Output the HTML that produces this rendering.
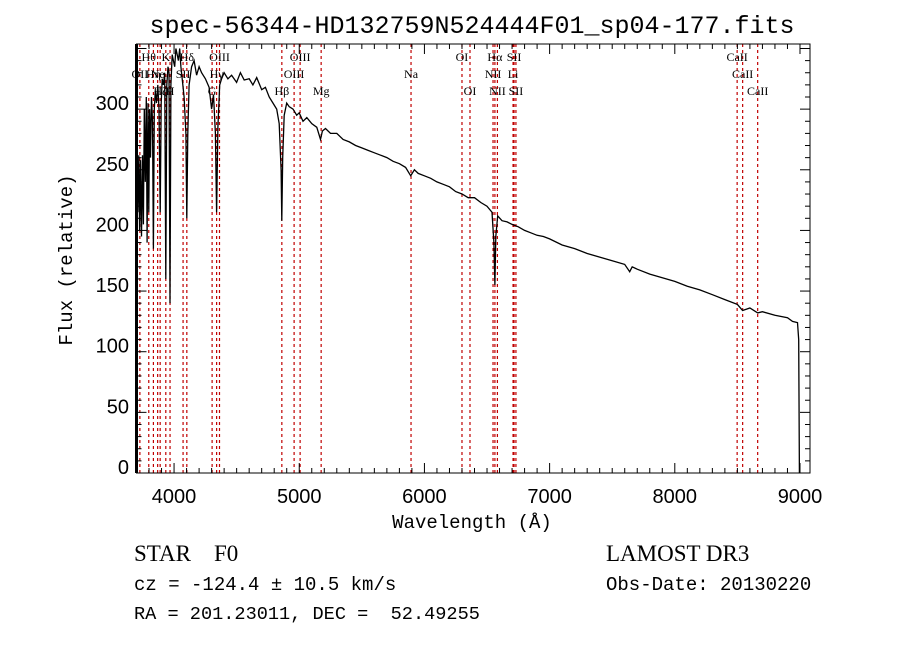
<!DOCTYPE html>
<html><head><meta charset="utf-8"><style>
body{margin:0;background:#fff;width:900px;height:649px;overflow:hidden}
svg{display:block}
text{white-space:pre}
</style></head><body>
<svg id="c" width="900" height="649" xmlns="http://www.w3.org/2000/svg">
<text x="472" y="33" text-anchor="middle" font-family="Liberation Mono, monospace" font-size="25">spec-56344-HD132759N524444F01_sp04-177.fits</text>
<g id="lines"></g>
<g id="labels" font-family="Liberation Serif, serif" font-size="12"></g>
<polyline id="spec" fill="none" stroke="#000" stroke-width="1.3"/>
<rect x="136.5" y="44" width="673.5" height="429" fill="none" stroke="#000" stroke-width="1"/>
<line x1="136.5" y1="44" x2="136.5" y2="473" stroke="#000" stroke-width="3"/>
<g id="axes"></g>
<text x="472" y="528" text-anchor="middle" font-family="Liberation Mono, monospace" font-size="19">Wavelength (Å)</text>
<text transform="translate(72,260) rotate(-90)" text-anchor="middle" font-family="Liberation Mono, monospace" font-size="19">Flux (relative)</text>
<text x="134" y="561" font-family="Liberation Serif, serif" font-size="23" xml:space="preserve">STAR    F0</text>
<text x="606" y="561" font-family="Liberation Serif, serif" font-size="23">LAMOST DR3</text>
<text x="134" y="590" font-family="Liberation Mono, monospace" font-size="19">cz = -124.4 ± 10.5 km/s</text>
<text x="606" y="590" font-family="Liberation Mono, monospace" font-size="19">Obs-Date: 20130220</text>
<text x="134" y="619" font-family="Liberation Mono, monospace" font-size="18.6" xml:space="preserve">RA = 201.23011, DEC =  52.49255</text>
</svg>
<script>
const specWl=[3700,3702,3710,3718,3725,3732,3740,3748,3755,3762,3770,3778,3785,3792,3798,3805,3812,3820,3828,3835,3842,3850,3860,3870,3880,3889,3897,3905,3915,3925,3934,3942,3952,3960,3968,3975,3985,3995,4005,4015,4025,4035,4045,4055,4065,4080,4095,4102,4110,4120,4140,4160,4180,4200,4220,4250,4280,4300,4315,4330,4340,4350,4365,4380,4400,4430,4460,4500,4530,4560,4600,4630,4660,4700,4730,4760,4790,4820,4840,4855,4861,4868,4880,4900,4920,4950,4980,5000,5030,5060,5100,5140,5170,5185,5210,5250,5300,5350,5400,5450,5500,5550,5600,5650,5700,5750,5800,5850,5890,5920,5950,6000,6050,6100,6150,6200,6250,6300,6350,6400,6450,6500,6540,6555,6563,6570,6585,6620,6660,6700,6750,6800,6850,6900,6950,7000,7100,7200,7300,7400,7500,7600,7640,7660,7700,7800,7900,8000,8100,8200,8300,8400,8500,8542,8600,8662,8700,8800,8900,8940,8980,8990,8995];
const specFlux=[0,255,215,262,200,258,195,262,205,300,240,310,190,305,215,300,260,310,290,185,300,315,305,320,300,215,305,325,320,330,160,320,335,330,140,320,345,340,335,350,345,340,350,335,325,310,280,210,280,320,335,340,328,335,330,325,318,300,312,280,215,285,320,325,330,325,328,322,330,324,325,320,326,316,318,310,305,300,288,250,208,260,295,305,302,300,295,297,290,293,288,285,275,282,284,280,280,275,273,270,268,266,264,262,260,257,255,252,245,250,247,245,243,240,238,236,232,230,227,227,223,220,215,190,155,195,212,208,207,205,203,200,198,196,195,193,188,185,181,178,175,172,166,170,168,164,161,158,154,151,147,143,139,134,136,132,133,130,128,125,124,110,0];
const lineWl=[3727,3798,3835,3869,3889,3934,3968,4072,4102,4304,4340,4363,4861,4959,5007,5175,5893,6300,6364,6548,6563,6583,6708,6716,6731,8498,8542,8662];
const lineNames=["OII","Hθ","Hη","Ne","Hζ","K","H","SII","Hδ","G","Hγ","OIII","Hβ","OIII","OIII","Mg","Na","OI","OI","NII","Hα","NII","Li","SII","SII","CaII","CaII","CaII"];
const lineRow=[1,0,1,1,2,0,2,1,0,2,1,0,2,1,0,2,1,0,2,1,0,2,1,0,2,0,1,2];
const xTicks=[4000,5000,6000,7000,8000,9000];
const yTicks=[0,50,100,150,200,250,300];
const NS="http://www.w3.org/2000/svg";
const X0=136.5,X1=810,Y0=473,Y1=44,WMIN=3700,WMAX=9080,FMIN=0,FMAX=353.7;
const sx=w=>X0+(w-WMIN)/(WMAX-WMIN)*(X1-X0);
const sy=f=>Y0-(f-FMIN)/(FMAX-FMIN)*(Y0-Y1);
function mk(t,a,p){const e=document.createElementNS(NS,t);for(const k in a)e.setAttribute(k,a[k]);p.appendChild(e);return e;}
document.getElementById('spec').setAttribute('points',specWl.map((w,i)=>sx(w).toFixed(1)+','+sy(specFlux[i]).toFixed(1)).join(' '));
const gl=document.getElementById('lines'),gt=document.getElementById('labels');
lineWl.forEach((w,i)=>{
 const l=mk('line',{x1:sx(w),x2:sx(w),y1:Y1,y2:Y0,stroke:'#c00000','stroke-width':1.2,'stroke-dasharray':'3,3'},gl);
 
 
 const t=mk('text',{x:sx(w),y:61+lineRow[i]*17,'text-anchor':'middle'},gt);
 t.textContent=lineNames[i];
 
 
});
const ga=document.getElementById('axes');
for(let w=3800;w<=9000;w+=100){const M=w%1000===0,L=M?10:5;
 mk('line',{x1:sx(w),x2:sx(w),y1:Y0,y2:Y0-L,stroke:'#000'},ga);
 mk('line',{x1:sx(w),x2:sx(w),y1:Y1,y2:Y1+L,stroke:'#000'},ga);}
for(let f=0;f<=350;f+=10){const M=f%50===0,L=M?10:5;
 mk('line',{x1:X0,x2:X0+L,y1:sy(f),y2:sy(f),stroke:'#000'},ga);
 mk('line',{x1:X1,x2:X1-L,y1:sy(f),y2:sy(f),stroke:'#000'},ga);}
xTicks.forEach(w=>{const t=mk('text',{x:sx(w),y:503,'text-anchor':'middle','font-family':'Liberation Sans, sans-serif','font-size':20},ga);t.textContent=w;
 
 });
yTicks.forEach(f=>{const t=mk('text',{x:129,y:sy(f)+1,'text-anchor':'end','font-family':'Liberation Sans, sans-serif','font-size':20},ga);t.textContent=f;
 
 });
</script>
</body></html>
